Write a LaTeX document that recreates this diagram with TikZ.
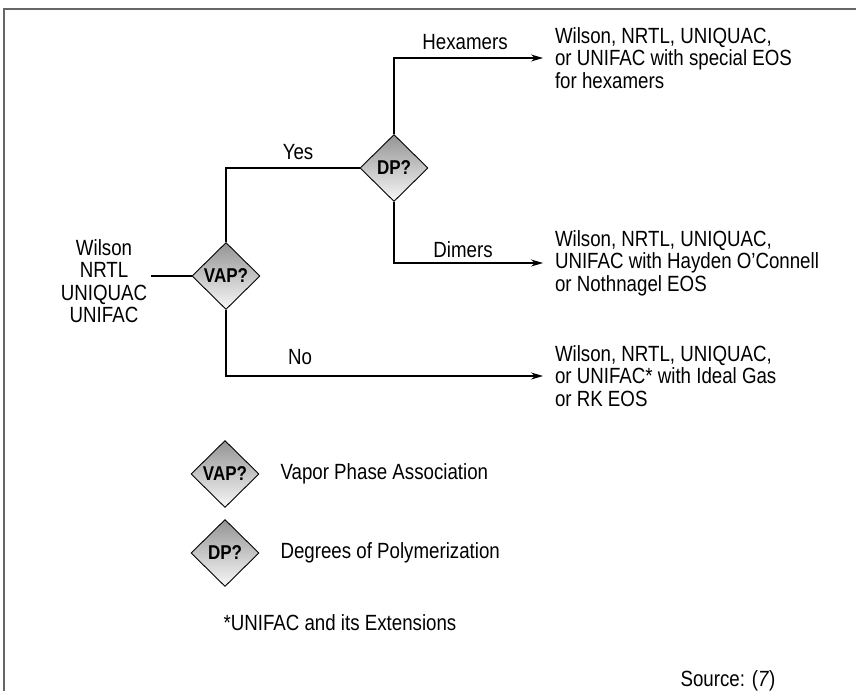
\documentclass[tikz,border=0pt]{standalone}
\usepackage{fontspec}
\setmainfont{Liberation Sans}[FakeStretch=0.85]
\usetikzlibrary{shapes.geometric, arrows.meta}

\begin{document}
\begin{tikzpicture}[x=1pt, y=-1pt, line width=1.1pt,
every node/.style={font=\fontsize{22}{22.5}\selectfont},
dia/.style={diamond, draw, line width=0.9pt, inner sep=0pt,
minimum width=68pt, minimum height=67pt, top color=black!42,
bottom color=black!3, font=\fontsize{20}{20}\selectfont\bfseries},
res/.style={anchor=west, align=left, inner sep=0pt, outer xsep=12pt},
txt/.style={anchor=west, inner sep=0pt},
tip/.style={-{Stealth[length=12pt, width=7pt]}}]
    \useasboundingbox (0,0) rectangle (856,691);
    \draw[line width=2pt, black!60] (856,9) -- (4,9) -- (4,691);
    \node (vap) at (226,276) [dia] {VAP?};
    \node (dp) at (394,168) [dia] {DP?};
    \node (models) at (104,281) [align=center] {Wilson\\NRTL\\UNIQUAC\\UNIFAC};
    \node (hexres) at (543,58) [res] {Wilson, NRTL, UNIQUAC,\\or UNIFAC with special EOS\\for hexamers};
    \node (dimres) at (543,263) [res] {Wilson, NRTL, UNIQUAC,\\UNIFAC with Hayden O'Connell\\or Nothnagel EOS};
    \node (nores) at (543,376) [res] {Wilson, NRTL, UNIQUAC,\\or UNIFAC* with Ideal Gas\\or RK EOS};
    \draw (models.east |- vap) -- (vap);
    \draw (vap) |- (dp);
    \draw[tip] (dp) |- (hexres);
    \draw[tip] (dp) |- (dimres);
    \draw[tip] (vap) |- (nores);
    \node (yes) at (298,152) {Yes};
    \node (hex) at (465,42) {Hexamers};
    \node (dim) at (463,250) {Dimers};
    \node (no) at (300,357) {No};
    \node (lvap) at (225,474) [dia] {VAP?};
    \node (ldp) at (225,553) [dia] {DP?};
    \node (lvaptxt) at (280,474) [txt] {Vapor Phase Association};
    \node (ldptxt) at (280,553) [txt] {Degrees of Polymerization};
    \node (note) at (223,623) [txt] {*UNIFAC and its Extensions};
    \node (src) at (680,681) [txt] {Source: (\textit{7})};
\end{tikzpicture}
\end{document}
